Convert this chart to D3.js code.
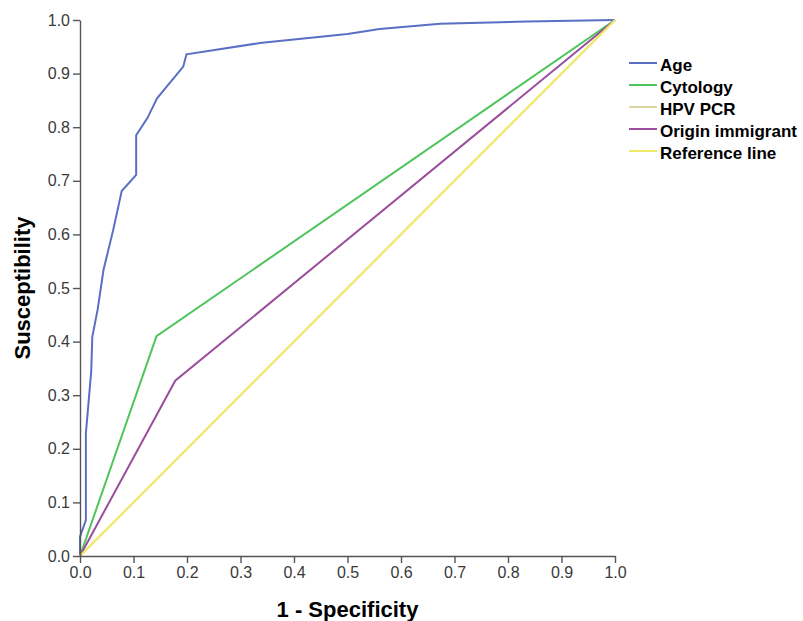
<!DOCTYPE html>
<html>
<head>
<meta charset="utf-8">
<script src="https://cdn.jsdelivr.net/npm/d3@7"></script>
<style>
  body { margin: 0; background: #fff; }
  text { font-family: "Liberation Sans", Arial, sans-serif; }
</style>
</head>
<body>
<div id="root"></div>
<script>
const width = 803;
const height = 621;

// ROC curves: [1 - specificity, sensitivity]
const ageCurve = [[0, 0], [0, 0.036], [0.011, 0.067], [0.011, 0.229], [0.021, 0.345], [0.023, 0.409],
  [0.033, 0.46], [0.044, 0.534], [0.062, 0.608], [0.078, 0.681], [0.105, 0.711], [0.105, 0.785],
  [0.126, 0.817], [0.144, 0.854], [0.193, 0.913], [0.199, 0.936], [0.336, 0.957], [0.5, 0.974],
  [0.56, 0.983], [0.673, 0.993], [0.835, 0.997], [1, 1]];
const cytologyCurve = [[0, 0], [0.143, 0.41], [1, 1]];
const hpvCurve = [[0, 0], [1, 1]];
const originCurve = [[0, 0], [0.178, 0.327], [1, 1]];
const referenceLine = [[0, 0], [1, 1]];

const seriesNames = ["Age", "Cytology", "HPV PCR", "Origin immigrant", "Reference line"];
const seriesData = [ageCurve, cytologyCurve, hpvCurve, originCurve, referenceLine];
const seriesColors = ["#5a6fc4", "#4fc45c", "#ddd6a2", "#9a4e9e", "#f0ea66"];

const xTicks = [0, 0.1, 0.2, 0.3, 0.4, 0.5, 0.6, 0.7, 0.8, 0.9, 1.0];
const yTicks = [0, 0.1, 0.2, 0.3, 0.4, 0.5, 0.6, 0.7, 0.8, 0.9, 1.0];

const margin = {left: 80, right: 188, top: 20, bottom: 65};

const svg = d3.select("#root").append("svg")
  .attr("width", width)
  .attr("height", height);

const x = d3.scaleLinear().domain([0, 1]).range([margin.left, width - margin.right]);
const y = d3.scaleLinear().domain([0, 1]).range([height - margin.bottom, margin.top]);

const line = d3.line()
  .x(d => x(d[0]))
  .y(d => y(d[1]));

svg.selectAll("path.roc")
  .data(seriesData)
  .enter()
  .append("path")
  .attr("class", "roc")
  .attr("d", d => line(d))
  .attr("fill", "none")
  .attr("stroke", (d, i) => seriesColors[i])
  .attr("stroke-width", 2);

// axes
const xAxis = svg.append("g")
  .attr("transform", "translate(0," + y(0) + ")")
  .call(d3.axisBottom(x).tickValues(xTicks).tickFormat(d3.format(".1f")).tickSize(7).tickSizeOuter(0));

const yAxis = svg.append("g")
  .attr("transform", "translate(" + x(0) + ",0)")
  .call(d3.axisLeft(y).tickValues(yTicks).tickFormat(d3.format(".1f")).tickSize(7).tickSizeOuter(0));

[xAxis, yAxis].forEach(g => {
  g.select(".domain").attr("stroke", "#555").attr("stroke-width", 1.4);
  g.selectAll(".tick line").attr("stroke", "#555").attr("stroke-width", 1.4);
  g.selectAll(".tick text")
    .attr("font-family", "Liberation Sans, Arial, sans-serif")
    .attr("font-size", "16px")
    .attr("fill", "#3a3a3a");
});
xAxis.selectAll(".tick text").attr("y", 11);
yAxis.selectAll(".tick text").attr("x", -10);

svg.append("text")
  .attr("x", (x(0) + x(1)) / 2)
  .attr("y", 617)
  .attr("text-anchor", "middle")
  .attr("font-size", "22px")
  .attr("font-weight", "bold")
  .text("1 - Specificity");

svg.append("text")
  .attr("transform", "translate(30," + (y(0) + y(1)) / 2 + ") rotate(-90)")
  .attr("text-anchor", "middle")
  .attr("font-size", "22px")
  .attr("font-weight", "bold")
  .text("Susceptibility");

// legend
const legend = svg.append("g")
  .attr("id", "legend")
  .attr("transform", "translate(629,63)");

legend.selectAll("line")
  .data(seriesNames)
  .enter()
  .append("line")
  .attr("x1", 0)
  .attr("x2", 28)
  .attr("y1", (d, i) => i * 22)
  .attr("y2", (d, i) => i * 22)
  .attr("stroke", (d, i) => seriesColors[i])
  .attr("stroke-width", 2);

legend.selectAll("text")
  .data(seriesNames)
  .enter()
  .append("text")
  .attr("x", 31)
  .attr("y", (d, i) => i * 22 + 8)
  .attr("font-size", "17px")
  .attr("font-weight", "bold")
  .text(d => d);
</script>
</body>
</html>
